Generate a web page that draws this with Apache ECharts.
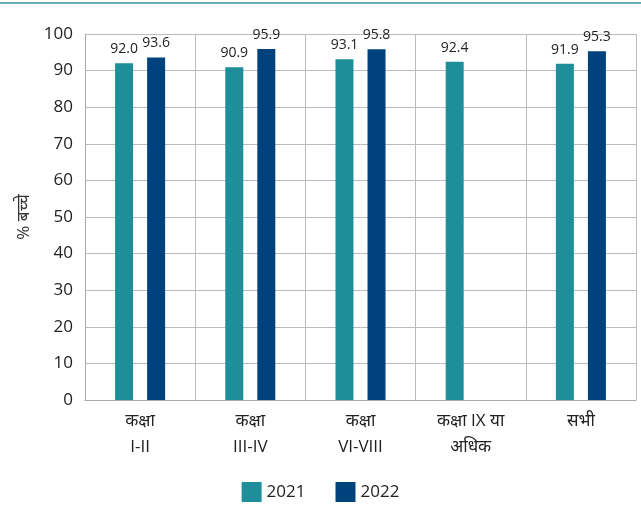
<!DOCTYPE html>
<html>
<head>
<meta charset="utf-8">
<script src="https://cdn.jsdelivr.net/npm/echarts@6/dist/echarts.min.js"></script>
<style>
    html, body { margin: 0; padding: 0; background: #fff; }
    #chart { width: 641px; height: 509px; }
</style>
</head>
<body>
<div id="chart"></div>
<script>
// श्रेणियाँ
var categories = ['कक्षा\nI-II', 'कक्षा\nIII-IV', 'कक्षा\nVI-VIII', 'कक्षा IX या\nअधिक', 'सभी']
var seriesNames = ['2021', '2022']
var values2021 = [92.0, 90.9, 93.1, 92.4, 91.9]
var values2022 = [93.6, 95.9, 95.8, null, 95.3]
var yTicks = { min: 0, max: 100, interval: 10 }

var font = 'Open Sans, Noto Sans, sans-serif'
var chart = echarts.init(document.getElementById('chart'))

function barSeries(name, data, color) {
    return {
        name: name,
        type: 'bar',
        data: data,
        barWidth: 18,
        barGap: '78%',
        itemStyle: { color: color },
        label: {
            show: true,
            position: 'top',
            distance: 7,
            color: '#222',
            fontSize: 14,
            fontFamily: font,
            formatter: function (p) { return p.value == null ? '' : p.value.toFixed(1) },
        },
    }
}

var option = {
    animation: false,
    textStyle: { fontFamily: font },
    graphic: [
        {
            type: 'rect',
            shape: { x: 0, y: 2, width: 641, height: 2 },
            style: { fill: '#6aafb6' },
        },
    ],
    grid: { left: 85, right: 5, top: 34, bottom: 109 },
    legend: {
        bottom: 2,
        left: 'center',
        itemWidth: 20,
        itemHeight: 20,
        itemGap: 30,
        icon: 'rect',
        textStyle: { color: '#222', fontSize: 17, fontFamily: font },
        data: seriesNames,
    },
    xAxis: {
        type: 'category',
        data: categories,
        axisTick: { show: false },
        axisLine: { lineStyle: { color: '#aaa' } },
        splitLine: { show: true, lineStyle: { color: '#bbb' } },
        axisLabel: {
            color: '#222',
            fontSize: 17,
            lineHeight: 26,
            margin: 8,
            fontFamily: font,
        },
    },
    yAxis: {
        type: 'value',
        min: yTicks.min,
        max: yTicks.max,
        interval: yTicks.interval,
        name: '% बच्चे',
        nameLocation: 'middle',
        nameGap: 45,
        nameTextStyle: { color: '#333', fontSize: 17, fontFamily: font },
        axisLine: { show: true, lineStyle: { color: '#aaa' } },
        axisTick: { show: false },
        axisLabel: { color: '#222', fontSize: 17, margin: 12, fontFamily: font },
        splitLine: { lineStyle: { color: '#bbb' } },
    },
    series: [
        barSeries(seriesNames[0], values2021, '#1e8f9a'),
        barSeries(seriesNames[1], values2022, '#00427c'),
    ],
}
chart.setOption(option)
</script>
</body>
</html>
